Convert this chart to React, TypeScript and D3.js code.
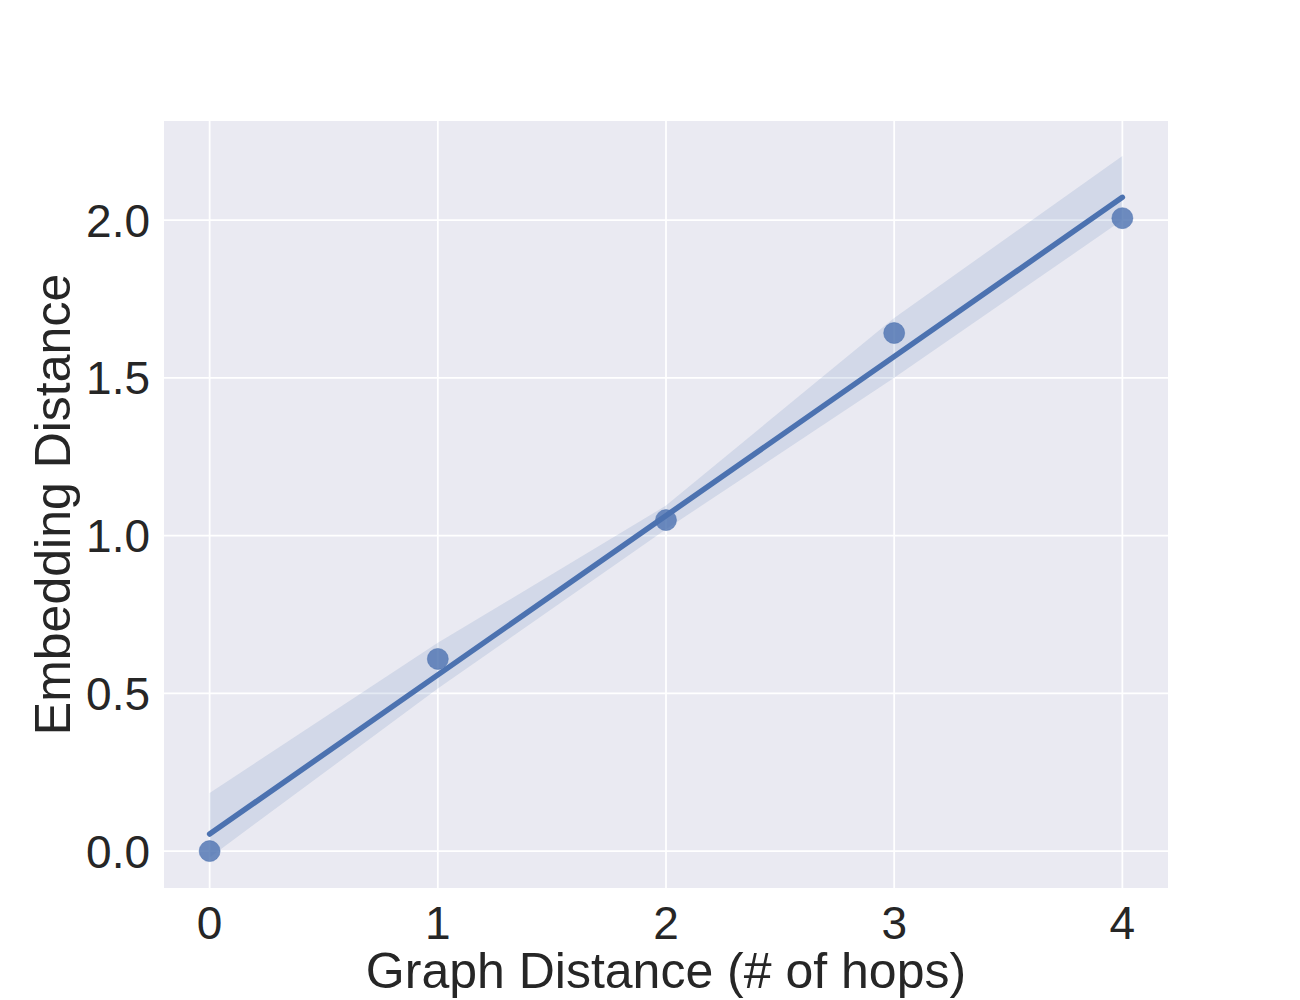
import React from "react";
import * as d3 from "d3";

const hops = [0, 1, 2, 3, 4];
const embDist = [0.0, 0.609, 1.049, 1.642, 2.006];
const fitX = [0, 4];
const fitY = [0.054, 2.072];
const bandX = [0, 1, 2, 3, 4];
const bandUpper = [0.184, 0.66, 1.095, 1.69, 2.203];
const bandLower = [-0.02, 0.515, 1.02, 1.5, 2.0];
const xTicks = [0, 1, 2, 3, 4];
const yTicks = [0.0, 0.5, 1.0, 1.5, 2.0];

const W = 1300, H = 1000;
const L = 164, R = 1168, T = 121, B = 888;
const COLOR = "#4C72B0";
const FONT = "'Liberation Sans', Arial, sans-serif";

export default function App() {
  const x = d3.scaleLinear().domain([-0.2, 4.2]).range([L, R]);
  const y = d3.scaleLinear().domain([-0.117, 2.314]).range([B, T]);
  const area = d3.area<number>()
    .x((_, i) => x(bandX[i]))
    .y0((_, i) => y(bandLower[i]))
    .y1((_, i) => y(bandUpper[i]));
  const line = d3.line<number>().x((_, i) => x(fitX[i])).y((d) => y(d));
  return (
    <svg width={W} height={H} style={{ position: "absolute", left: 0, top: 0, background: "#fff" }}>
      <rect x={L} y={T} width={R - L} height={B - T} fill="#EAEAF2" />
      {xTicks.map((t) => (
        <line key={"gx" + t} x1={x(t)} x2={x(t)} y1={T} y2={B} stroke="#fff" strokeWidth={1.8} />
      ))}
      {yTicks.map((t) => (
        <line key={"gy" + t} x1={L} x2={R} y1={y(t)} y2={y(t)} stroke="#fff" strokeWidth={1.8} />
      ))}
      <path d={area(bandX) || ""} fill={COLOR} fillOpacity={0.15} />
      <path d={line(fitY) || ""} fill="none" stroke={COLOR} strokeWidth={5.5} strokeLinecap="round" />
      {hops.map((h, i) => (
        <circle key={"p" + i} cx={x(h)} cy={y(embDist[i])} r={10.5} fill={COLOR} fillOpacity={0.8} stroke={COLOR} strokeOpacity={0.5} strokeWidth={1} />
      ))}
      {xTicks.map((t) => (
        <text key={"tx" + t} x={x(t)} y={B + 51} textAnchor="middle" fontSize={46} fill="#262626" fontFamily={FONT}>
          {t}
        </text>
      ))}
      {yTicks.map((t) => (
        <text key={"ty" + t} x={L - 14} y={y(t)} dy="0.36em" textAnchor="end" fontSize={46} fill="#262626" fontFamily={FONT}>
          {t.toFixed(1)}
        </text>
      ))}
      <text x={(L + R) / 2} y={988} textAnchor="middle" fontSize={50} fill="#262626" fontFamily={FONT}>
        Graph Distance (# of hops)
      </text>
      <text transform={`translate(70,${(T + B) / 2}) rotate(-90)`} textAnchor="middle" fontSize={50} fill="#262626" fontFamily={FONT}>
        Embedding Distance
      </text>
    </svg>
  );
}
